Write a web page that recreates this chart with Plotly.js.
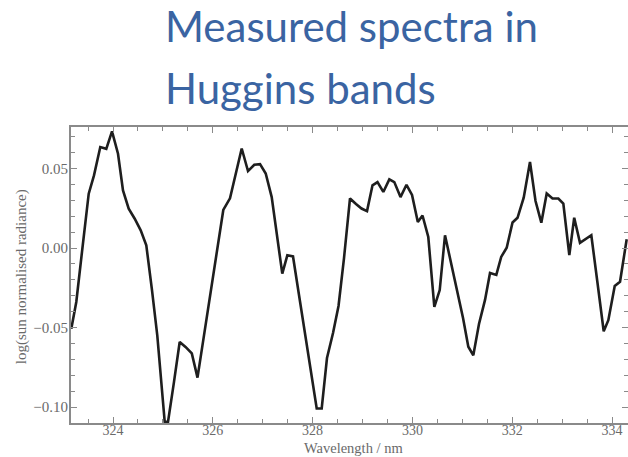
<!DOCTYPE html>
<html>
<head>
<meta charset="utf-8">
<script src="https://cdn.plot.ly/plotly-3.0.1.min.js"></script>
<style>html,body{margin:0;padding:0;background:#fff;}#chart{width:628px;height:457px;}</style>
</head>
<body>
<div id="chart"></div>
<script>
// Wavelength (nm)
const wavelength = [
  323.164, 323.264, 323.378, 323.513, 323.619, 323.745, 323.865, 323.980, 324.100, 324.200,
  324.314, 324.435, 324.555, 324.667, 324.781, 324.887, 325.036, 325.102, 325.222, 325.336,
  325.453, 325.579, 325.693, 325.823, 325.954, 326.084, 326.210, 326.344, 326.455, 326.579,
  326.705, 326.831, 326.946, 327.060, 327.180, 327.286, 327.392, 327.493, 327.607, 327.727,
  327.847, 327.968, 328.082, 328.182, 328.288, 328.409, 328.519, 328.629, 328.749, 328.869,
  328.980, 329.090, 329.200, 329.300, 329.417, 329.537, 329.637, 329.761, 329.881, 329.992,
  330.108, 330.202, 330.318, 330.439, 330.547, 330.653, 330.773, 330.893, 331.014, 331.120,
  331.220, 331.334, 331.455, 331.555, 331.681, 331.779, 331.889, 332.006, 332.106, 332.230,
  332.356, 332.467, 332.583, 332.691, 332.807, 332.924, 333.024, 333.144, 333.242, 333.358,
  333.469, 333.585, 333.709, 333.833, 333.926, 334.054, 334.160, 334.294
];
// log(sun normalised radiance)
const logRadiance = [
  -0.0507, -0.0339, -0.0025, 0.0341, 0.0456, 0.0634, 0.0623, 0.0733, 0.0592, 0.0362,
  0.0247, 0.0184, 0.0111, 0.0017, -0.0264, -0.0548, -0.1092, -0.1092, -0.0841, -0.0590,
  -0.0621, -0.0662, -0.0814, -0.0552, -0.0289, -0.0025, 0.0239, 0.0312, 0.0452, 0.0625,
  0.0483, 0.0523, 0.0527, 0.0468, 0.0320, 0.0082, -0.0161, -0.0046, -0.0053, -0.0295,
  -0.0534, -0.0772, -0.1008, -0.1008, -0.0691, -0.0534, -0.0364, -0.0063, 0.0311, 0.0276,
  0.0248, 0.0232, 0.0394, 0.0414, 0.0352, 0.0431, 0.0414, 0.0320, 0.0397, 0.0333,
  0.0163, 0.0204, 0.0069, -0.0370, -0.0264, 0.0080, -0.0088, -0.0264, -0.0439, -0.0620,
  -0.0674, -0.0477, -0.0326, -0.0157, -0.0169, -0.0056, 0.0002, 0.0160, 0.0190, 0.0316,
  0.0540, 0.0295, 0.0159, 0.0342, 0.0311, 0.0311, 0.0279, -0.0044, 0.0190, 0.0033,
  0.0056, 0.0080, -0.0220, -0.0523, -0.0453, -0.0239, -0.0212, 0.0055
];
const titleLines = ["Measured spectra in", "Huggins bands"];
const xTitle = "Wavelength / nm";
const yTitle = "log(sun normalised radiance)";

const axisColor = "#8a8a8a";
const serif = "Liberation Serif, Times New Roman, serif";
const textGrey = "#6a6a6a";
const yLabelFont = {family: serif, size: 15, color: textGrey};
const xLabelFont = {family: serif, size: 14, color: textGrey};
const titleFont = {family: "Lato, Open Sans, sans-serif", size: 42, color: "#3a64a2"};

const trace = {
  x: wavelength, y: logRadiance, type: "scatter", mode: "lines",
  line: {color: "#1e1e1e", width: 2.6}, hoverinfo: "skip"
};

const layout = {
  width: 628, height: 457,
  margin: {l: 71, r: 0, t: 127, b: 34},
  paper_bgcolor: "#ffffff", plot_bgcolor: "#ffffff",
  showlegend: false,
  annotations: [
    {text: titleLines[0], xref: "paper", yref: "paper", x: (163 - 71) / 557, y: 1.341,
     xanchor: "left", yanchor: "middle", showarrow: false, font: titleFont},
    {text: titleLines[1], xref: "paper", yref: "paper", x: (163 - 71) / 557, y: 1.1331,
     xanchor: "left", yanchor: "middle", showarrow: false, font: titleFont},
    {text: xTitle, xref: "paper", yref: "paper", x: 0.508, y: -0.0845,
     xanchor: "center", yanchor: "middle", showarrow: false,
     font: {family: serif, size: 14.5, color: textGrey}},
    {text: yTitle, xref: "paper", yref: "paper", x: -0.0885, y: 0.4949, textangle: -90,
     xanchor: "center", yanchor: "middle", showarrow: false,
     font: {family: serif, size: 15, color: textGrey}}
  ],
  xaxis: {
    range: [323.158, 334.32], showgrid: false, zeroline: false,
    showline: true, linecolor: axisColor, linewidth: 2, mirror: "ticks",
    ticks: "inside", ticklen: 6, tickwidth: 1, tickcolor: axisColor,
    tick0: 324, dtick: 2, tickformat: "d",
    minor: {dtick: 0.5, ticks: "inside", ticklen: 4, tickcolor: axisColor, showgrid: false},
    tickfont: xLabelFont, ticklabelstandoff: -7
  },
  yaxis: {
    range: [-0.1099, 0.0760], showgrid: false, zeroline: false,
    showline: true, linecolor: axisColor, linewidth: 2, mirror: "ticks",
    ticks: "inside", ticklen: 6, tickwidth: 1, tickcolor: axisColor,
    tick0: 0, dtick: 0.05, tickformat: ".2f",
    minor: {dtick: 0.01, ticks: "inside", ticklen: 4, tickcolor: axisColor, showgrid: false},
    tickfont: yLabelFont, ticklabelstandoff: -2
  }
};

Plotly.newPlot("chart", [trace], layout, {displayModeBar: false, staticPlot: true});
</script>
</body>
</html>
